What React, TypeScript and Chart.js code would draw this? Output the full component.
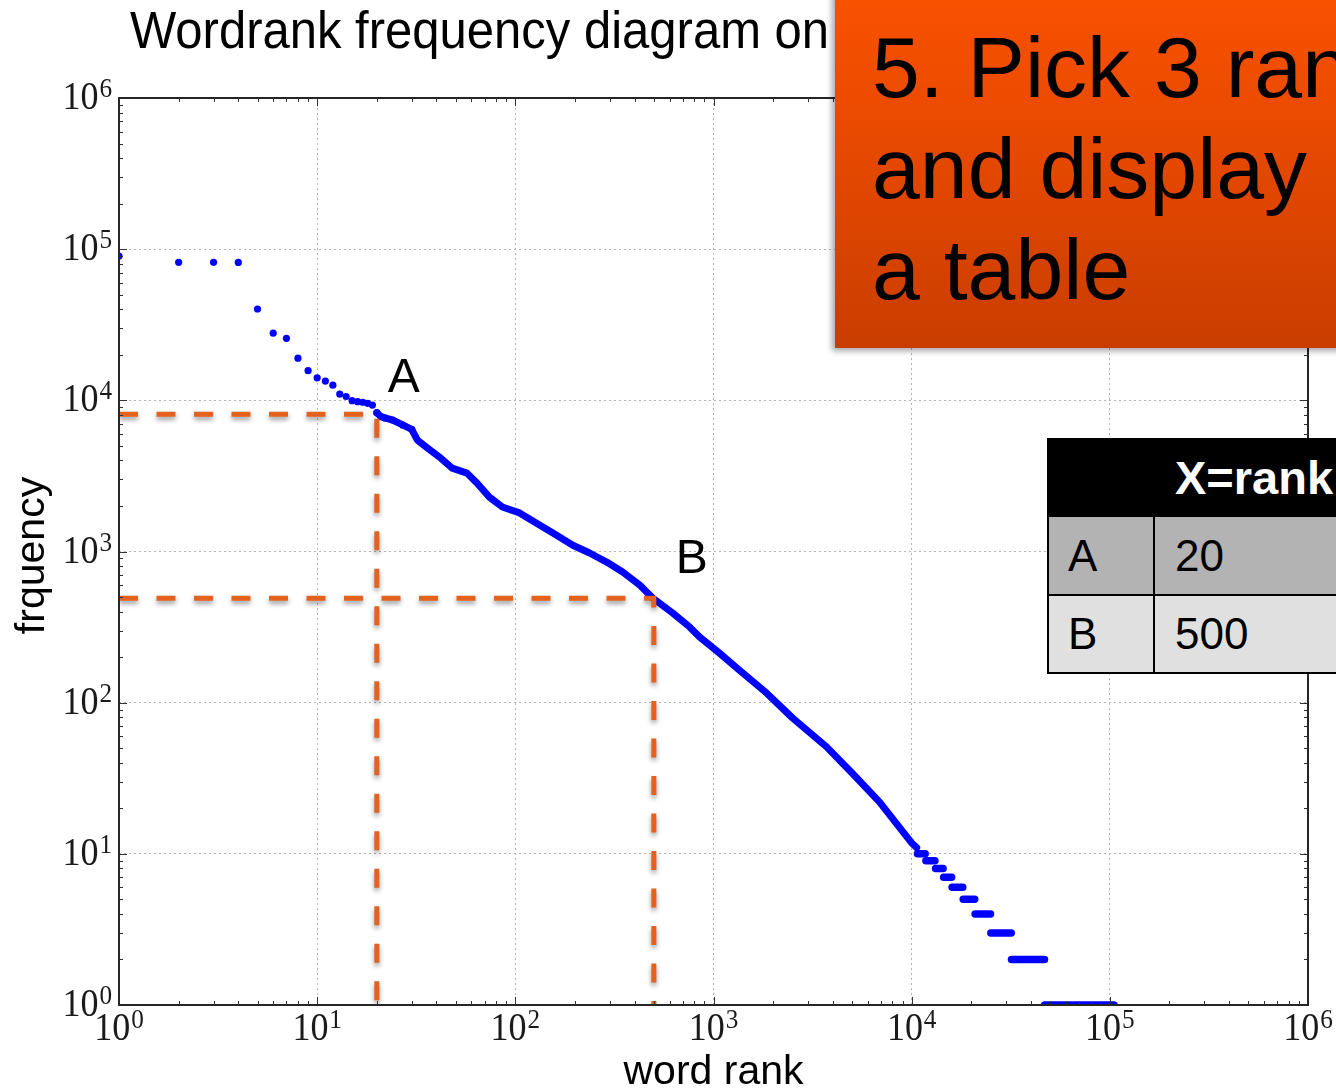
import React, { useEffect, useRef } from "react";
import { Chart, registerables } from "chart.js";

Chart.register(...registerables);

const chartTitle = "Wordrank frequency diagram on";
const xAxisTitle = "word rank";
const yAxisTitle = "frquency";
const decadeExponents = [0, 1, 2, 3, 4, 5, 6];

// Most frequent words, one marker per rank
const headRanks = [1, 2, 3, 4, 5, 6, 7, 8, 9, 10, 11, 12, 13, 14, 15, 16, 17, 18, 19, 20, 21, 22, 24, 27, 30];
const headFreqs = [90100, 81900, 81800, 81700, 40200, 27800, 25700, 19000, 15700, 14100, 13400, 12600, 11000, 10600, 9950, 9800, 9710, 9560, 9310, 8280, 7790, 7640, 7410, 6870, 6430];

// Dense middle of the curve, where the markers merge into a band
const bodyRanks = [20, 21, 24, 27, 30, 32, 36, 42, 48, 57, 64, 74, 86, 105, 128, 154, 195, 237, 289, 348, 424, 493, 622, 757, 851, 1070, 1350, 1850, 2510, 3720, 5030, 6890, 8500, 10000, 10600];
const bodyFreqs = [8280, 7790, 7410, 6870, 6430, 5470, 4840, 4150, 3560, 3300, 2840, 2290, 1970, 1800, 1540, 1330, 1100, 977, 851, 731, 600, 492, 392, 317, 272, 213, 164, 116, 79, 51, 34, 22, 15.5, 11.8, 11];

// Long tail: runs of ranks that share the same small count
const tailCounts = [10, 9, 8, 7, 6, 5, 4, 3, 2, 1];
const tailFirstRank = [10700, 11800, 13200, 14500, 16000, 18200, 20900, 25100, 31900, 46900];
const tailLastRank = [11700, 13100, 14400, 15900, 18100, 20800, 25000, 31800, 46800, 105000];

// Picked ranks: guide lines, letters and table rows
const pickLabels = ["A", "B"];
const pickRanks = [20, 500];
const pickFreqs = [8100, 490];

const tableHeader = "X=rank";
const calloutLines = ["5. Pick 3 ranks", "and display in", "a table"];

const BLUE = "#0000FF";
const GUIDE = "#E3621E";
const SANS = "'Liberation Sans', Arial, sans-serif";
const SERIF = "'Liberation Serif', 'Times New Roman', serif";

const isDecade = (v: number) => {
  const l = Math.log10(v);
  return Math.abs(l - Math.round(l)) < 1e-6;
};

// drop shadow under the dashed guide lines
const guideShadow = {
  id: "guideShadow",
  beforeDatasetDraw(chart: any, args: any) {
    const ds = chart.data.datasets[args.index];
    if (ds.label && String(ds.label).startsWith("pick")) {
      const ctx = chart.ctx;
      ctx.save();
      ctx.shadowColor = "rgba(0,0,0,0.4)";
      ctx.shadowBlur = 5;
      ctx.shadowOffsetX = 0;
      ctx.shadowOffsetY = 3;
    }
  },
  afterDatasetDraw(chart: any, args: any) {
    const ds = chart.data.datasets[args.index];
    if (ds.label && String(ds.label).startsWith("pick")) chart.ctx.restore();
  },
};

function drawPower(ctx: CanvasRenderingContext2D, exp: number, x: number, baseline: number, align: "center" | "right") {
  const squeeze = 0.9;
  const base = "10";
  const sup = String(exp);
  ctx.font = `40px ${SERIF}`;
  const wb = ctx.measureText(base).width;
  ctx.font = `28px ${SERIF}`;
  const ws = ctx.measureText(sup).width;
  const total = (wb + 1 + ws) * squeeze;
  const left = align === "right" ? x - total : x - total / 2;
  ctx.save();
  ctx.translate(left, baseline);
  ctx.scale(squeeze, 1);
  ctx.textAlign = "left";
  ctx.textBaseline = "alphabetic";
  ctx.font = `40px ${SERIF}`;
  ctx.fillText(base, 0, 0);
  ctx.font = `28px ${SERIF}`;
  ctx.fillText(sup, wb + 1, -12);
  ctx.restore();
}

// frame, inward tick marks, tick labels, titles and pick letters
const axisDecor = {
  id: "axisDecor",
  afterDraw(chart: any) {
    const { ctx, chartArea: a } = chart;
    const xs = chart.scales.x;
    const ys = chart.scales.y;
    ctx.save();

    ctx.strokeStyle = "#333";
    ctx.lineWidth = 1;
    ctx.beginPath();
    for (let e = 0; e < 6; e++) {
      for (let m = 1; m < 10; m++) {
        const v = m * Math.pow(10, e);
        const len = m === 1 ? 8 : 4;
        const px = Math.round(xs.getPixelForValue(v)) + 0.5;
        ctx.moveTo(px, a.bottom);
        ctx.lineTo(px, a.bottom - len);
        ctx.moveTo(px, a.top);
        ctx.lineTo(px, a.top + len);
        const py = Math.round(ys.getPixelForValue(v)) + 0.5;
        ctx.moveTo(a.left, py);
        ctx.lineTo(a.left + len, py);
        ctx.moveTo(a.right, py);
        ctx.lineTo(a.right - len, py);
      }
    }
    ctx.stroke();

    ctx.strokeStyle = "#262626";
    ctx.lineWidth = 2;
    ctx.strokeRect(a.left, a.top, a.right - a.left, a.bottom - a.top);

    ctx.fillStyle = "#1a1a1a";
    decadeExponents.forEach((e) => {
      const v = Math.pow(10, e);
      drawPower(ctx, e, xs.getPixelForValue(v), a.bottom + 35, "center");
      drawPower(ctx, e, a.left - 7, ys.getPixelForValue(v) + 11, "right");
    });

    ctx.fillStyle = "#000";
    ctx.textBaseline = "alphabetic";
    ctx.save();
    ctx.translate(130, 48);
    ctx.scale(1, 1.05);
    ctx.font = `49px ${SANS}`;
    ctx.textAlign = "left";
    ctx.fillText(chartTitle, 0, 0);
    ctx.restore();

    ctx.font = `41px ${SANS}`;
    ctx.textAlign = "center";
    ctx.fillText(xAxisTitle, (a.left + a.right) / 2, 1084);

    ctx.save();
    ctx.translate(44, (a.top + a.bottom) / 2 + 4);
    ctx.rotate(-Math.PI / 2);
    ctx.font = `41px ${SANS}`;
    ctx.textAlign = "center";
    ctx.fillText(yAxisTitle, 0, 0);
    ctx.restore();

    const letterOffsets = [
      [11, -22],
      [22, -25],
    ];
    ctx.font = `48px ${SANS}`;
    ctx.textAlign = "left";
    pickLabels.forEach((lab, i) => {
      const px = xs.getPixelForValue(pickRanks[i]);
      const py = ys.getPixelForValue(pickFreqs[i]);
      ctx.fillText(lab, px + letterOffsets[i][0], py + letterOffsets[i][1]);
    });

    ctx.restore();
  },
};

export default function App() {
  const canvasRef = useRef<HTMLCanvasElement>(null);

  useEffect(() => {
    const canvas = canvasRef.current;
    if (!canvas) return;

    const datasets: any[] = [];

    pickLabels.forEach((lab, i) => {
      datasets.push({
        type: "line",
        label: "pick " + lab,
        data: [
          { x: 1, y: pickFreqs[i] },
          { x: pickRanks[i], y: pickFreqs[i] },
          { x: pickRanks[i], y: 1 },
        ],
        borderColor: GUIDE,
        borderWidth: 5,
        borderDash: [19, 18.5],
        borderCapStyle: "butt",
        pointRadius: 0,
        fill: false,
        tension: 0,
        clip: 0,
        order: 1,
      });
    });

    datasets.push({
      type: "scatter",
      label: "head",
      data: headRanks.map((r, i) => ({ x: r, y: headFreqs[i] })),
      backgroundColor: BLUE,
      borderWidth: 0,
      pointRadius: 3.6,
      clip: 0,
      order: 2,
    });

    datasets.push({
      type: "line",
      label: "body",
      data: bodyRanks.map((r, i) => ({ x: r, y: bodyFreqs[i] })),
      borderColor: BLUE,
      borderWidth: 7,
      borderCapStyle: "round",
      borderJoinStyle: "round",
      pointRadius: 0,
      fill: false,
      tension: 0,
      clip: 0,
      order: 2,
    });

    tailCounts.forEach((c, i) => {
      datasets.push({
        type: "line",
        label: "tail " + c,
        data: [
          { x: tailFirstRank[i], y: c },
          { x: tailLastRank[i], y: c },
        ],
        borderColor: BLUE,
        borderWidth: 7.5,
        borderCapStyle: "round",
        pointRadius: 0,
        fill: false,
        clip: 0,
        order: 2,
      });
    });

    const gridColor = (c: any) => (c.tick && isDecade(c.tick.value) ? "#b3b3b3" : "rgba(0,0,0,0)");

    const chart = new Chart(canvas, {
      type: "scatter",
      data: { datasets },
      options: {
        responsive: false,
        animation: false,
        devicePixelRatio: 1,
        layout: { padding: { left: 119, top: 98, right: 28, bottom: 84 } },
        plugins: {
          legend: { display: false },
          tooltip: { enabled: false },
          title: { display: false },
        },
        scales: {
          x: {
            type: "logarithmic",
            min: 1,
            max: 1e6,
            ticks: { display: false },
            grid: { drawTicks: false, color: gridColor, lineWidth: 1 },
            border: { display: false, dash: [2, 3] },
          },
          y: {
            type: "logarithmic",
            min: 1,
            max: 1e6,
            ticks: { display: false },
            grid: { drawTicks: false, color: gridColor, lineWidth: 1 },
            border: { display: false, dash: [2, 3] },
          },
        },
      } as any,
      plugins: [guideShadow, axisDecor],
    } as any);

    return () => chart.destroy();
  }, []);

  const cellText: React.CSSProperties = {
    position: "absolute",
    fontFamily: SANS,
    fontSize: 44,
    whiteSpace: "nowrap",
  };

  return (
    <div style={{ position: "absolute", left: 0, top: 0, width: 1336, height: 1089, overflow: "hidden", background: "#fff" }}>
      <canvas ref={canvasRef} width={1336} height={1089} style={{ position: "absolute", left: 0, top: 0 }} />

      <div
        style={{
          position: "absolute",
          left: 835,
          top: -20,
          width: 540,
          height: 368,
          boxSizing: "border-box",
          paddingTop: 37,
          paddingLeft: 37,
          background: "linear-gradient(to bottom, #FB5200 0%, #E44800 50%, #C93D00 100%)",
          boxShadow: "-3px 3px 6px rgba(0,0,0,0.35)",
          fontFamily: SANS,
          fontSize: 86,
          lineHeight: "101px",
          color: "#000",
          whiteSpace: "nowrap",
        }}
      >
        {calloutLines.map((l, i) => (
          <div key={i}>{l}</div>
        ))}
      </div>

      <div style={{ position: "absolute", left: 1047, top: 438, width: 320, height: 79, background: "#000" }} />
      <div style={{ ...cellText, fontSize: 47, left: 1175, top: 438, height: 79, lineHeight: "79px", color: "#fff", fontWeight: "bold" }}>{tableHeader}</div>
      {pickLabels.map((lab, i) => {
        const top = i === 0 ? 517 : 596;
        const h = i === 0 ? 77 : 76;
        const bg = i === 0 ? "#B3B3B3" : "#E0E0E0";
        return (
          <React.Fragment key={lab}>
            <div
              style={{
                position: "absolute",
                left: 1047,
                top,
                width: 320,
                height: h,
                background: bg,
                borderLeft: "2px solid #000",
                borderBottom: "2px solid #000",
                boxSizing: "content-box",
              }}
            />
            <div style={{ position: "absolute", left: 1153, top, width: 2, height: h + 2, background: "#000" }} />
            <div style={{ ...cellText, left: 1068, top, height: h, lineHeight: h + "px", color: "#000" }}>{lab}</div>
            <div style={{ ...cellText, left: 1175, top, height: h, lineHeight: h + "px", color: "#000" }}>{String(pickRanks[i])}</div>
          </React.Fragment>
        );
      })}
    </div>
  );
}
